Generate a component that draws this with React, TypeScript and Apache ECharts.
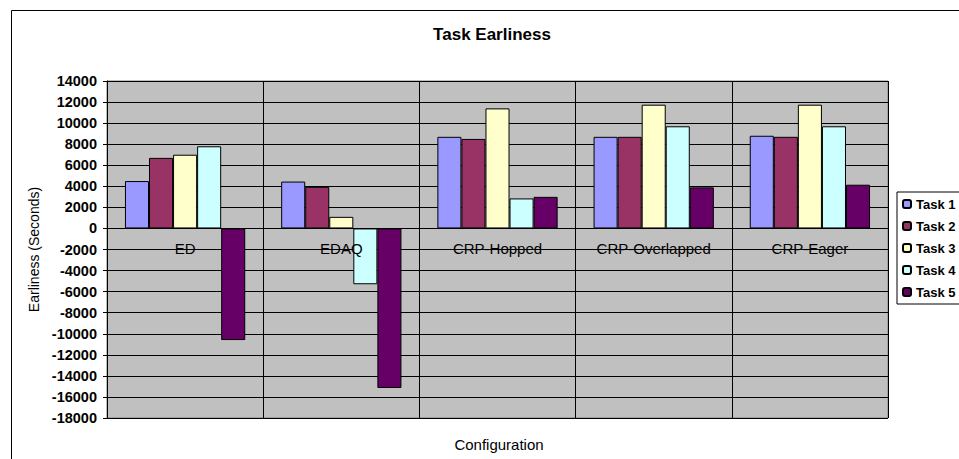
import React, { useEffect, useRef } from "react";
import * as echarts from "echarts";

const categories = ["ED", "EDAQ", "CRP-Hopped", "CRP-Overlapped", "CRP-Eager"];
const seriesNames = ["Task 1", "Task 2", "Task 3", "Task 4", "Task 5"];
const task1 = [4500, 4450, 8700, 8700, 8800];
const task2 = [6700, 3950, 8500, 8700, 8700];
const task3 = [7000, 1100, 11400, 11750, 11750];
const task4 = [7800, -5300, 2850, 9700, 9700];
const task5 = [-10600, -15150, 3000, 3900, 4150];
const seriesColors = ["#9999FF", "#993366", "#FFFFCC", "#CCFFFF", "#660066"];
const yMin = -18000;
const yMax = 14000;
const yStep = 2000;

const FONT = 'Arial, "Liberation Sans", sans-serif';

const GRID_TOP = 81;
const GRID_BOTTOM = 41;
const CHART_H = 459;

export default function App() {
  const ref = useRef<HTMLDivElement>(null);
  useEffect(() => {
    if (!ref.current) return;
    const chart = echarts.init(ref.current, null, { renderer: "svg" });
    const data = [task1, task2, task3, task4, task5];
    const gridH = CHART_H - GRID_TOP - GRID_BOTTOM;
    const zeroY = GRID_TOP + (gridH * yMax) / (yMax - yMin);
    const xOffset = -(GRID_TOP + gridH - zeroY);
    chart.setOption({
      animation: false,
      backgroundColor: "#ffffff",
      textStyle: { fontFamily: FONT },
      grid: {
        left: 107,
        top: GRID_TOP,
        right: 71,
        bottom: GRID_BOTTOM,
        show: true,
        backgroundColor: "#C0C0C0",
        borderColor: "#808080",
        borderWidth: 1,
      },
      legend: {
        orient: "vertical",
        left: 897,
        top: 192,
        padding: [5, 6, 5, 5],
        itemWidth: 8,
        itemHeight: 8,
        itemGap: 8,
        borderColor: "#000",
        borderWidth: 1,
        backgroundColor: "#fff",
        textStyle: { fontFamily: FONT, fontSize: 13, fontWeight: "bold", color: "#000", lineHeight: 14 },
        data: seriesNames,
      },
      xAxis: {
        type: "category",
        data: categories,
        position: "bottom",
        offset: xOffset,
        z: 10,
        axisLine: { onZero: false, lineStyle: { color: "#000", width: 1 } },
        axisTick: { show: false },
        axisLabel: { color: "#000", fontSize: 15, fontFamily: FONT, margin: 13, interval: 0 },
        splitLine: { show: true, lineStyle: { color: "#000", width: 1 } },
      },
      yAxis: {
        type: "value",
        min: yMin,
        max: yMax,
        interval: yStep,
        name: "Earliness (Seconds)",
        nameLocation: "middle",
        nameGap: 65,
        nameRotate: 90,
        nameTextStyle: { color: "#000", fontSize: 14, fontFamily: FONT },
        axisLine: { show: true, lineStyle: { color: "#000", width: 1 } },
        axisTick: { show: true, length: 4, lineStyle: { color: "#000" } },
        axisLabel: {
          color: "#000",
          fontSize: 14.5,
          fontWeight: "bold",
          fontFamily: FONT,
          margin: 10,
          formatter: (v: number) => String(v),
        },
        splitLine: { show: true, lineStyle: { color: "#000", width: 1 } },
      },
      graphic: [
        {
          type: "rect",
          silent: true,
          shape: { x: 11.5, y: 10.5, width: 1000, height: 500 },
          style: { fill: "none", stroke: "#000", lineWidth: 1 },
          z: 100,
        },
        {
          type: "text",
          x: 492,
          y: 34,
          style: {
            text: "Task Earliness",
            fontFamily: FONT,
            fontSize: 17,
            fontWeight: "bold",
            fill: "#000",
            textAlign: "center",
            textVerticalAlign: "middle",
          },
        },
        {
          type: "text",
          x: 499,
          y: 444,
          style: {
            text: "Configuration",
            fontFamily: FONT,
            fontSize: 15,
            fill: "#000",
            textAlign: "center",
            textVerticalAlign: "middle",
          },
        },
      ],
      series: seriesNames.map((name, i) => ({
        name,
        type: "bar",
        data: data[i],
        barGap: "0%",
        barCategoryGap: "23%",
        itemStyle: { color: seriesColors[i], borderColor: "#000", borderWidth: 1 },
      })),
    });
    return () => chart.dispose();
  }, []);
  return (
    <div
      ref={ref}
      style={{ position: "fixed", left: 0, top: 0, width: 959, height: 459 }}
    />
  );
}
